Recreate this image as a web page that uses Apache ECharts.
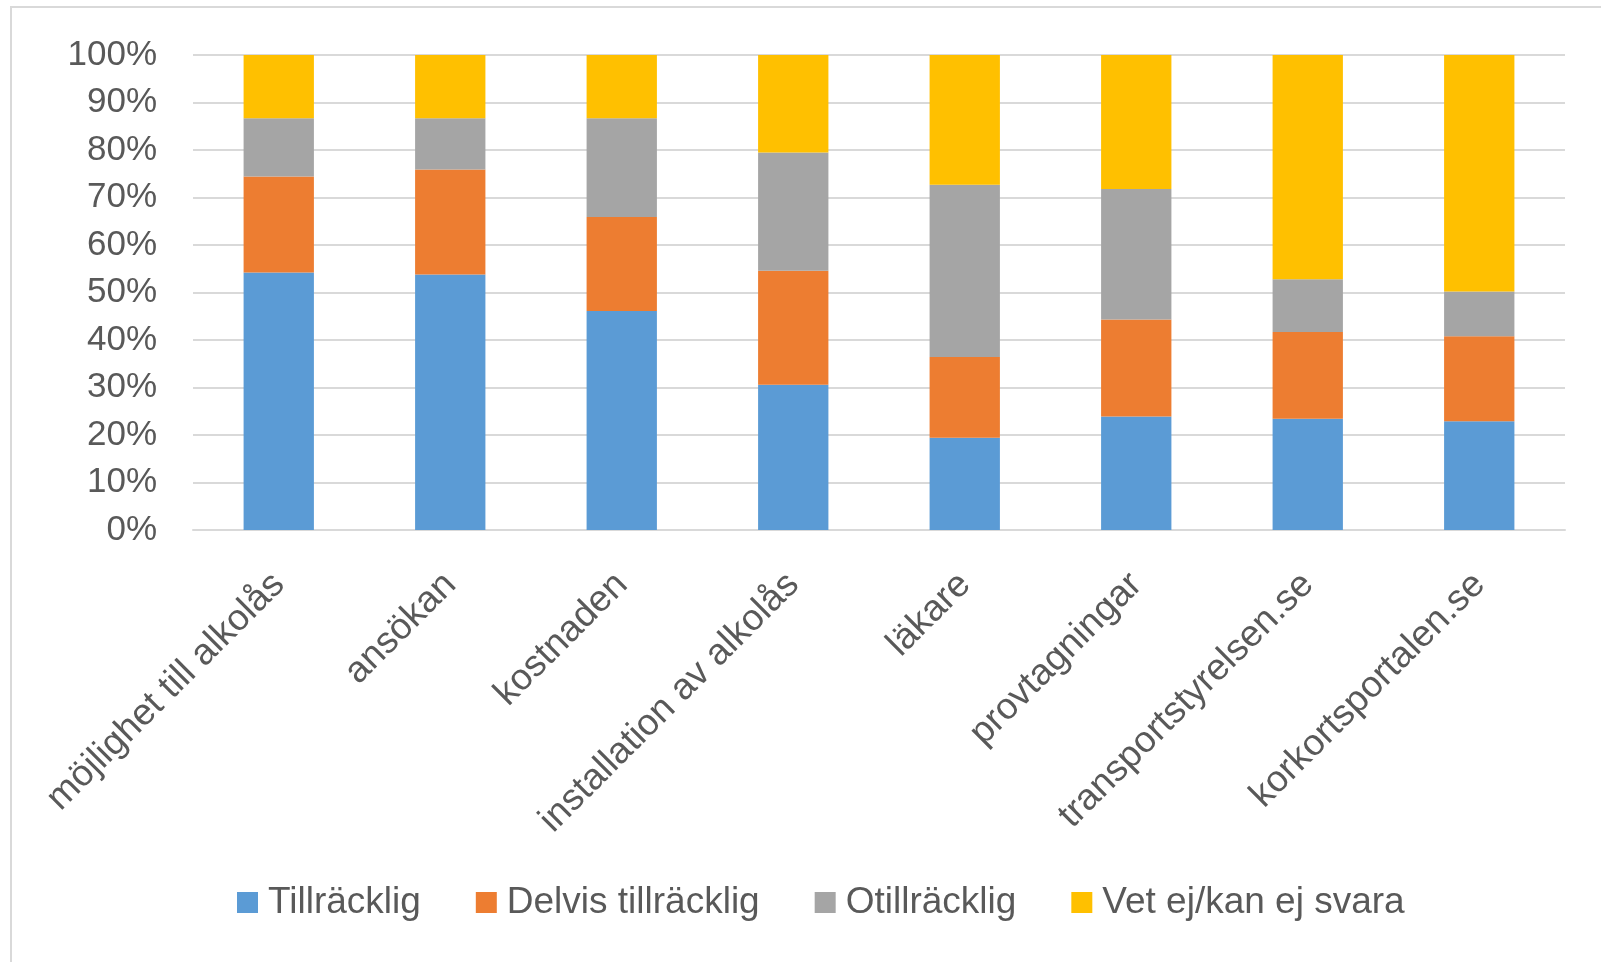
<!DOCTYPE html>
<html>
<head>
<meta charset="utf-8">
<script src="https://cdn.jsdelivr.net/npm/echarts@6/dist/echarts.min.js"></script>
<style>
html,body{margin:0;padding:0;background:#fff;}
#c{width:1601px;height:962px;}
</style>
</head>
<body>
<div id="c"></div>
<script>
const categories = ["möjlighet till alkolås","ansökan","kostnaden","installation av alkolås","läkare","provtagningar","transportstyrelsen.se","korkortsportalen.se"];
const seriesNames = ["Tillräcklig","Delvis tillräcklig","Otillräcklig","Vet ej/kan ej svara"];
const tillracklig = [54.2, 53.8, 46.1, 30.6, 19.4, 23.9, 23.4, 22.9];
const delvis      = [20.2, 22.1, 19.8, 24.0, 17.0, 20.4, 18.3, 17.9];
const otillracklig= [12.3, 10.8, 20.8, 24.9, 36.3, 27.5, 11.1, 9.4];
const vetEj       = [13.3, 13.3, 13.3, 20.5, 27.3, 28.2, 47.2, 49.8];
const yTicks = [0,10,20,30,40,50,60,70,80,90,100];

const colors = ["#5B9BD5","#ED7D31","#A5A5A5","#FFC000"];
const values = [tillracklig, delvis, otillracklig, vetEj];
const font = "'Liberation Sans', Arial, sans-serif";
const txt = "#595959";

const chart = echarts.init(document.getElementById('c'), null, {renderer:'canvas'});
chart.setOption({
  animation:false,
  backgroundColor:'#fff',
  color: colors,
  graphic:[{type:'rect', shape:{x:11,y:7,width:1620,height:1000}, style:{fill:'none', stroke:'#D9D9D9', lineWidth:2}, silent:true, z:-1}],
  grid:{left:193, right:36, top:55, bottom:432, containLabel:false},
  legend:{
    data: seriesNames,
    left:237, top:884, padding:0,
    itemWidth:21, itemHeight:21, itemGap:55,
    icon:'rect',
    textStyle:{color:txt, fontSize:37, fontFamily:font, padding:[0,0,0,5]}
  },
  xAxis:{
    type:'category', data:categories,
    axisLine:{lineStyle:{color:'#D9D9D9', width:2}},
    axisTick:{show:false},
    axisLabel:{rotate:45, interval:0, margin:49, color:txt, fontSize:37, fontFamily:font}
  },
  yAxis:{
    type:'value', min:0, max:100, interval:10,
    axisLine:{show:false}, axisTick:{show:false},
    splitLine:{lineStyle:{color:'#D9D9D9', width:2}},
    axisLabel:{margin:36, color:txt, fontSize:35, fontFamily:font, formatter: v => yTicks.includes(v) ? v + '%' : ''}
  },
  series: seriesNames.map((n,i)=>({
    name:n, type:'bar', stack:'total', data:values[i],
    barCategoryGap:'59%',
    itemStyle:{color:colors[i]}
  }))
});
</script>
</body>
</html>
